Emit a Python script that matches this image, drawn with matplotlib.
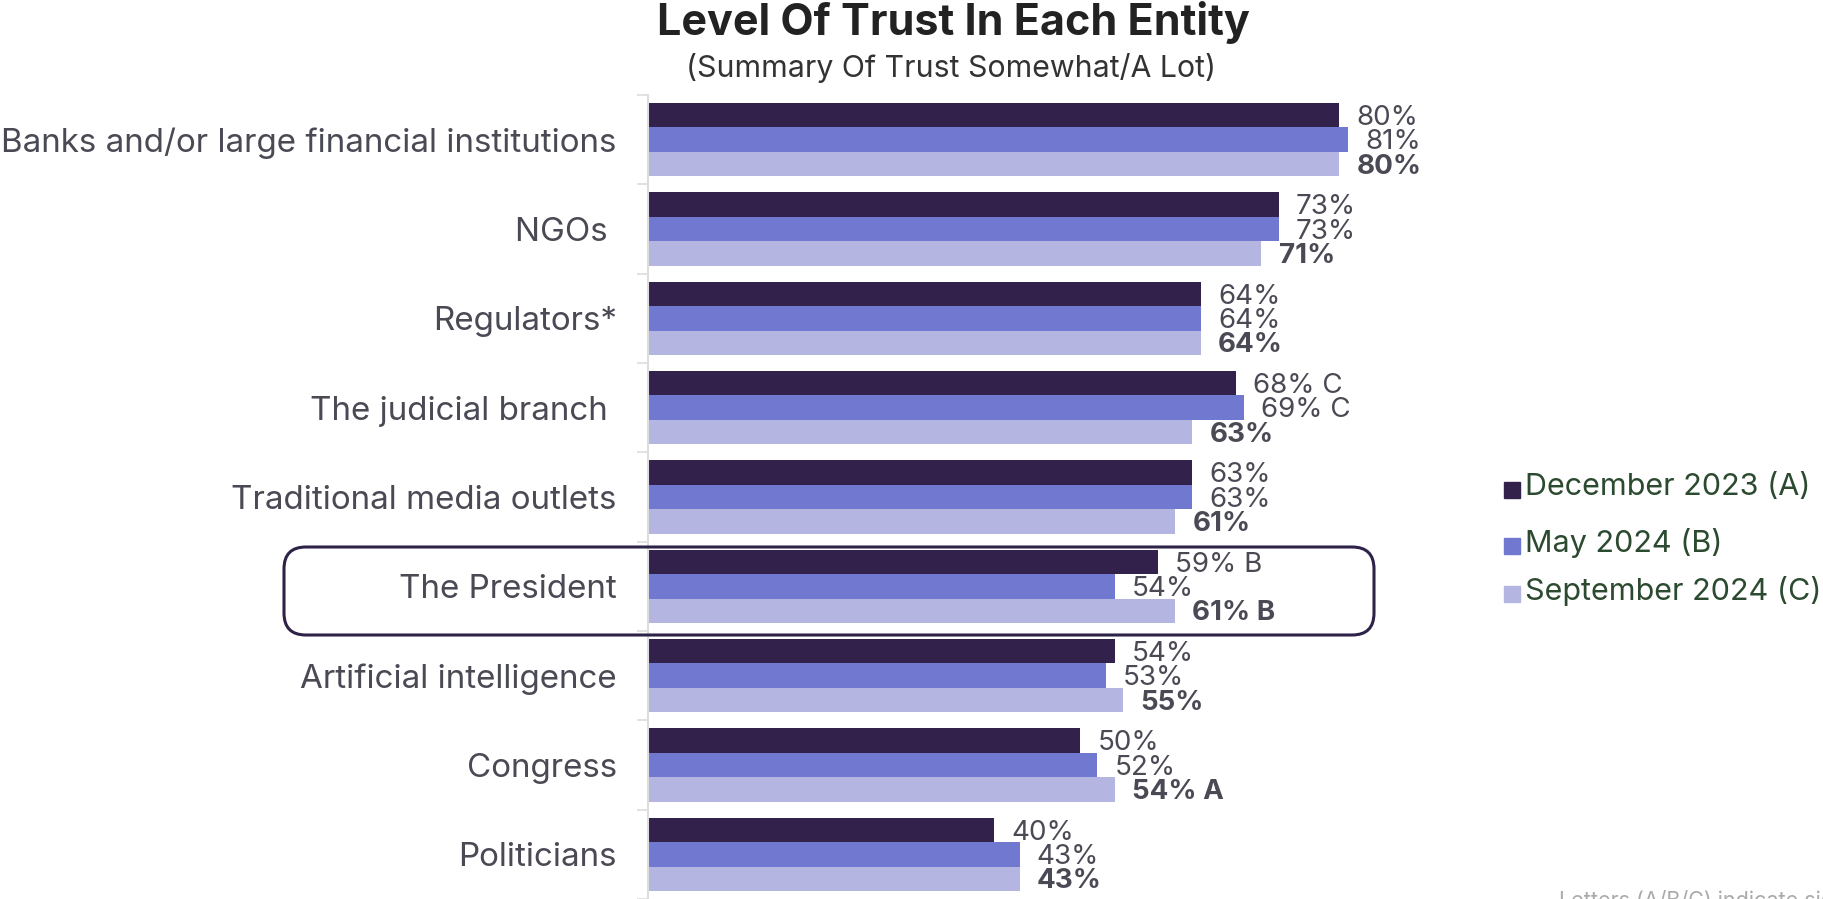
import matplotlib
matplotlib.use("Agg")
import matplotlib.pyplot as plt
from matplotlib.patches import FancyBboxPatch, Rectangle

# ── survey data ──────────────────────────────────────────────────────────
entities = ["Banks and/or large financial institutions", "NGOs ", "Regulators*",
            "The judicial branch ", "Traditional media outlets", "The President",
            "Artificial intelligence", "Congress", "Politicians"]
dec_2023 = [80, 73, 64, 68, 63, 59, 54, 50, 40]
may_2024 = [81, 73, 64, 69, 63, 54, 53, 52, 43]
sep_2024 = [80, 71, 64, 63, 61, 61, 55, 54, 43]
# significance letters appended to the value labels
dec_sig = ["", "", "", "C", "", "B", "", "", ""]
may_sig = ["", "", "", "C", "", "", "", "", ""]
sep_sig = ["", "", "", "", "", "B", "", "A", ""]
series_names = ["December 2023 (A)", "May 2024 (B)", "September 2024 (C)"]

COLORS = ["#32224b", "#7078cf", "#b5b5e2"]
TXT = "#4a4a55"
FONT = "Inter"
plt.rcParams["font.family"] = [FONT, "DejaVu Sans"]

W, H = 1824, 899
fig = plt.figure(figsize=(W / 100, H / 100), dpi=100)

# axes placed in pixel terms: spine at x=648, top at y=95, runs off the bottom
ax = fig.add_axes([648 / W, 0, 864 / W, (H - 95) / H])
ax.set_xlim(0, 100)
ax.set_ylim(8.47, -0.5)

bh = 0.273
for i in range(len(entities)):
    vals = [dec_2023[i], may_2024[i], sep_2024[i]]
    sigs = [dec_sig[i], may_sig[i], sep_sig[i]]
    for j, (v, s) in enumerate(zip(vals, sigs)):
        y = i + (j - 1) * bh
        ax.barh(y, v, height=bh, color=COLORS[j], edgecolor="none")
        lab = f"{v}%" + (f" {s}" if s else "")
        ax.text(v + 2.0, y + 0.03, lab, va="center", ha="left", fontsize=20,
                color=TXT, fontweight="bold" if j == 2 else "normal")

ax.set_yticks(range(len(entities)))
ax.set_yticklabels(entities, fontsize=23.9, color=TXT)
ax.tick_params(axis="y", length=0, pad=22.5)
ax.set_yticks([i + 0.5 for i in range(-1, len(entities))], minor=True)
ax.tick_params(axis="y", which="minor", length=8, color="#dddddd", width=1.2)
ax.set_xticks([])
for sp in ["top", "right", "bottom"]:
    ax.spines[sp].set_visible(False)
ax.spines["left"].set_color("#dddddd")
ax.spines["left"].set_linewidth(1.5)

# highlight box around The President
box = FancyBboxPatch((284 / W, 1 - 635 / H), (1374 - 284) / W, (635 - 547) / H,
                     boxstyle="round,pad=0,rounding_size=0.012",
                     transform=fig.transFigure, fill=False,
                     edgecolor="#2e2248", linewidth=2.2, mutation_aspect=W / H)
fig.patches.append(box)

fig.text(953 / W, 1 - 23 / H, "Level Of Trust In Each Entity", ha="center",
         va="center", fontsize=31, fontweight="bold", color="#222222")
fig.text(951 / W, 1 - 68 / H, "(Summary Of Trust Somewhat/A Lot)", ha="center",
         va="center", fontsize=21.8, color="#333333")

# legend drawn by hand so the text can run off the right edge
for k, (name, c) in enumerate(zip(series_names, COLORS)):
    yc = 1 - [490, 546, 594][k] / H
    fig.patches.append(Rectangle((1504 / W, yc - 8 / H), 16 / W, 16 / H,
                                 transform=fig.transFigure, color=c))
    fig.text(1525 / W, yc + 3 / H, name, va="center", ha="left", fontsize=22,
             color="#2c4a2f")

fig.text(1559 / W, 1 - 890 / H, "Letters (A/B/C) indicate significant differences",
         va="top", ha="left", fontsize=15.5, color="#aaaaaa")

fig.savefig("out.png", dpi=100)
